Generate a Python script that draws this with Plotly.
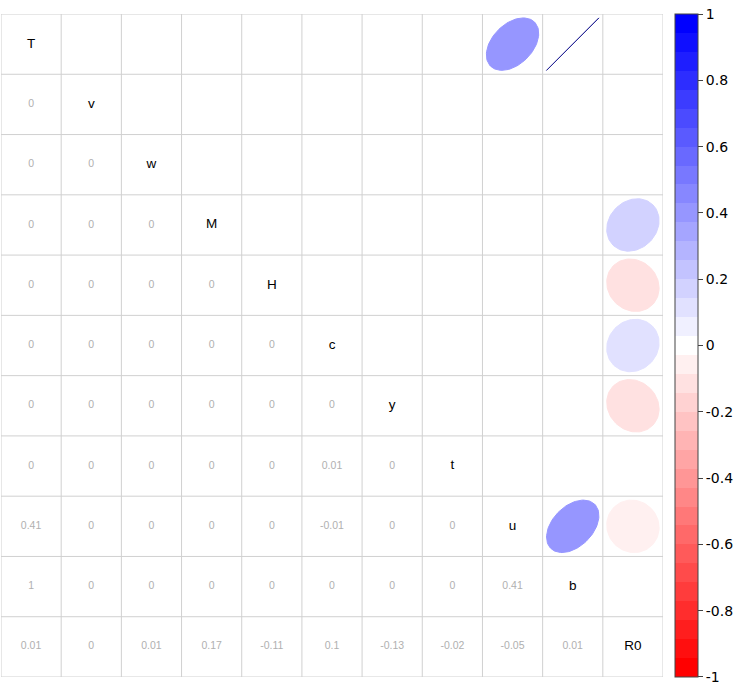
import numpy as np
import plotly.graph_objects as go

# ---------------- data ----------------
labels = ["T", "v", "w", "M", "H", "c", "y", "t", "u", "b", "R0"]

# lower-triangle correlations, row by row (row i has i values, columns 0..i-1)
row_v = [0]
row_w = [0, 0]
row_M = [0, 0, 0]
row_H = [0, 0, 0, 0]
row_c = [0, 0, 0, 0, 0]
row_y = [0, 0, 0, 0, 0, 0]
row_t = [0, 0, 0, 0, 0, 0.01, 0]
row_u = [0.41, 0, 0, 0, 0, -0.01, 0, 0]
row_b = [1, 0, 0, 0, 0, 0, 0, 0, 0.41]
row_R0 = [0.01, 0, 0.01, 0.17, -0.11, 0.1, -0.13, -0.02, -0.05, 0.01]
lower_rows = [[], row_v, row_w, row_M, row_H, row_c, row_y, row_t, row_u, row_b, row_R0]

# colour-bar ticks
cb_tickvals = [1, 0.8, 0.6, 0.4, 0.2, 0, -0.2, -0.4, -0.6, -0.8, -1]
cb_ticktext = ["1", "0.8", "0.6", "0.4", "0.2", "0", "-0.2", "-0.4", "-0.6", "-0.8", "-1"]

n = len(labels)
R = np.eye(n)
for i, row in enumerate(lower_rows):
    for j, v in enumerate(row):
        R[i, j] = v
        R[j, i] = v

# ---------------- colours ----------------
N_BANDS = 35


def ramp(v):
    """red - white - blue ramp, v in [-1, 1]"""
    if v >= 0:
        a = 1 - v
        return (255 * a, 255 * a, 255)
    a = 1 + v
    return (255, 255 * a, 255 * a)


def band_color(v):
    k = int(round((v + 1) / 2 * (N_BANDS - 1)))
    c = ramp(-1 + 2 * k / (N_BANDS - 1))
    return "rgb(%d,%d,%d)" % tuple(int(round(x)) for x in c)


colorscale = []
for k in range(N_BANDS):
    c = band_color(-1 + 2 * k / (N_BANDS - 1))
    colorscale.append([k / N_BANDS, c])
    colorscale.append([(k + 1) / N_BANDS, c])

fig = go.Figure()

# ---------------- grid ----------------
shapes = []
for k in range(n + 1):
    p = k - 0.5
    shapes.append(dict(type="line", xref="x", yref="y", x0=p, x1=p, y0=-0.5, y1=n - 0.5,
                       line=dict(color="#D0D0D0", width=1), layer="below"))
    shapes.append(dict(type="line", xref="x", yref="y", y0=p, y1=p, x0=-0.5, x1=n - 0.5,
                       line=dict(color="#D0D0D0", width=1), layer="below"))

# ---------------- upper triangle: ellipses ----------------
S = 0.87
t = np.linspace(0, 2 * np.pi, 99)
for i in range(n):
    for j in range(i + 1, n):
        r = R[i, j]
        if abs(r) < 0.05:
            continue
        a = np.arccos(np.clip(r, -1, 1)) / 2
        ex = np.cos(t + a) / 2 * S
        ey = np.cos(t - a) / 2 * S
        col = band_color(r)
        lcol = "rgb(40,40,150)" if abs(r) >= 0.999 else col
        fig.add_trace(go.Scatter(x=j + ex, y=i - ey, mode="lines", fill="toself",
                                 fillcolor=col, line=dict(color=lcol, width=1),
                                 hoverinfo="skip", showlegend=False))

# ---------------- lower triangle: numbers ----------------
nx, ny, nt = [], [], []
for i in range(n):
    for j in range(i):
        nx.append(j)
        ny.append(i)
        nt.append("%g" % round(R[i, j], 2))
fig.add_trace(go.Scatter(x=nx, y=ny, text=nt, mode="text",
                         textfont=dict(family="Liberation Sans, Arial", size=10.5, color="#B0B0B0"),
                         hoverinfo="skip", showlegend=False))

# ---------------- diagonal labels ----------------
fig.add_trace(go.Scatter(x=list(range(n)), y=list(range(n)), text=labels, mode="text",
                         textfont=dict(family="Liberation Sans, Arial", size=13.5, color="black"),
                         hoverinfo="skip", showlegend=False))

# ---------------- colour bar ----------------
tick_pos = [float(np.clip(v, -0.9995, 0.9995)) for v in cb_tickvals]
fig.add_trace(go.Scatter(
    x=[None], y=[None], mode="markers", hoverinfo="skip", showlegend=False,
    marker=dict(color=[0], cmin=-1, cmax=1, colorscale=colorscale, showscale=True,
                colorbar=dict(
                    xref="container", yref="paper",
                    x=675 / 750, xanchor="left",
                    y=1, yanchor="top",
                    len=1, lenmode="fraction",
                    thickness=23, thicknessmode="pixels",
                    outlinewidth=1, outlinecolor="#444444",
                    ticks="outside", ticklen=5, tickcolor="#444444",
                    tickvals=tick_pos, ticktext=cb_ticktext,
                    ticklabeloverflow="allow",
                    tickfont=dict(family="DejaVu Sans", size=14, color="black"),
                    xpad=0, ypad=0,
                ))))

fig.update_layout(
    width=750, height=684,
    margin=dict(l=1, r=87, t=14, b=7, autoexpand=False),
    paper_bgcolor="white", plot_bgcolor="white",
    shapes=shapes,
    xaxis=dict(range=[-0.5, n - 0.5], showgrid=False, zeroline=False, showticklabels=False,
               fixedrange=True),
    yaxis=dict(range=[n - 0.5, -0.5], showgrid=False, zeroline=False, showticklabels=False,
               fixedrange=True),
)

fig.write_html("out.html", config={"displayModeBar": False},
               post_script="document.body.style.margin='0';document.body.style.overflow='hidden';")
